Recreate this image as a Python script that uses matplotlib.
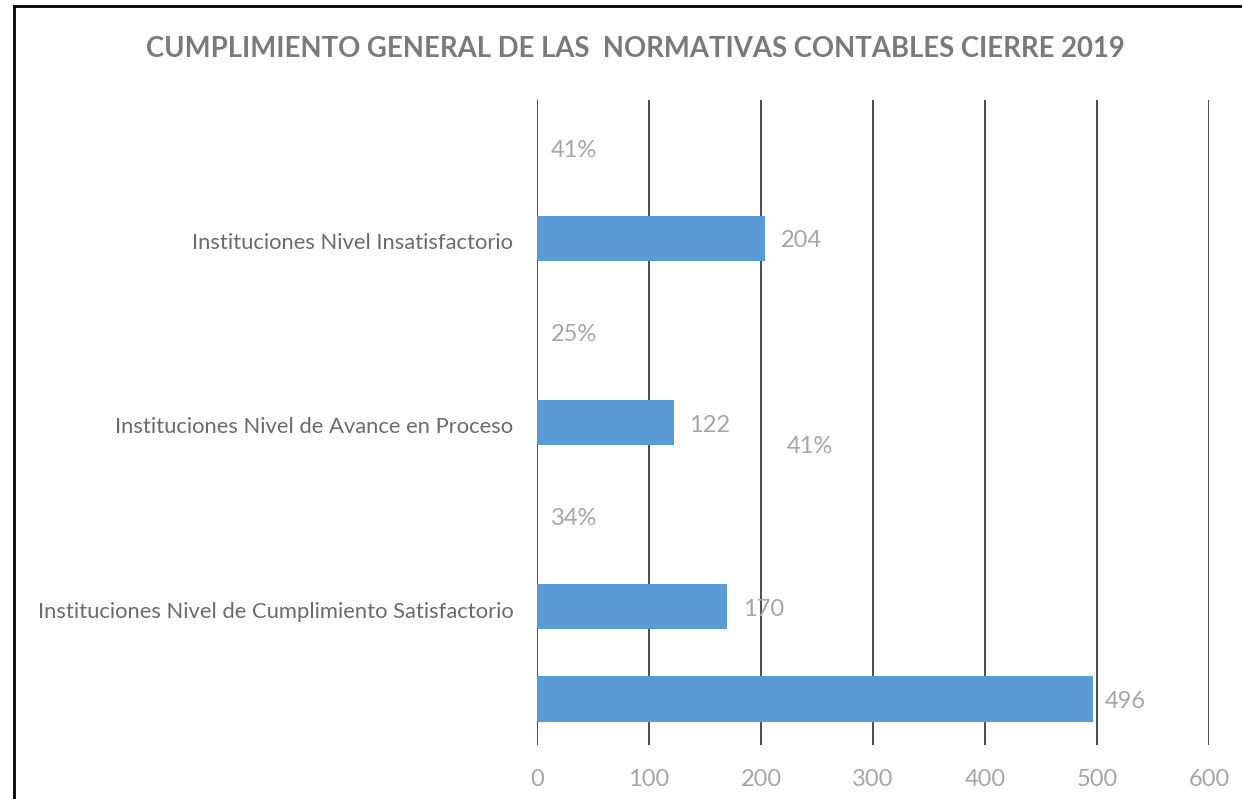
# Cumplimiento general de las normativas contables, cierre 2019.

import matplotlib
matplotlib.use("Agg")
import matplotlib.pyplot as plt
import matplotlib.transforms as mtransforms
from matplotlib.lines import Line2D

# Datos (de arriba hacia abajo en el gráfico)
CATEGORIAS = [
    "Instituciones Nivel Insatisfactorio",
    "Instituciones Nivel de Avance en Proceso",
    "Instituciones Nivel de Cumplimiento Satisfactorio",
]
CANTIDADES = [204, 122, 170]
PORCENTAJES = [41, 25, 34]
TOTAL = 496
PORCENTAJE_SUELTO = 41  # etiqueta que quedó flotando en el gráfico original

TITULO = "CUMPLIMIENTO GENERAL DE LAS  NORMATIVAS CONTABLES CIERRE 2019"
TICKS_X = [0, 100, 200, 300, 400, 500, 600]

AZUL = "#5b9bd5"
GRIS_ETIQUETA = "#a6a6a6"
GRIS_CATEGORIA = "#6b6b6b"
GRIS_TITULO = "#7a7a7a"
FUENTE = ["Lato", "DejaVu Sans"]
TAM_ETIQUETA = 17

W, H = 1242, 799
figura = plt.figure(figsize=(W / 100, H / 100), dpi=100)

# Área del gráfico en píxeles: x 537..1209, y 100..745
eixo = figura.add_axes([537 / W, (H - 745) / H, (1209 - 537) / W, (745 - 100) / H])

# Filas: porcentaje, cantidad, porcentaje, cantidad, ..., total
filas_pct = [0, 2, 4]
filas_cant = [1, 3, 5]
fila_total = 6

eixo.barh(filas_cant, CANTIDADES, height=0.49, color=AZUL, zorder=3)
eixo.barh([fila_total], [TOTAL], height=0.49, color=AZUL, zorder=3)

for fila, valor in zip(filas_cant, CANTIDADES):
    eixo.annotate(str(valor), (valor, fila), xytext=(11, -2), textcoords="offset points",
                  va="center", ha="left", fontsize=TAM_ETIQUETA, color=GRIS_ETIQUETA, family=FUENTE)
eixo.annotate(str(TOTAL), (TOTAL, fila_total), xytext=(9, -2), textcoords="offset points",
              va="center", ha="left", fontsize=TAM_ETIQUETA, color=GRIS_ETIQUETA, family=FUENTE)
for fila, pct in zip(filas_pct, PORCENTAJES):
    eixo.annotate(f"{pct}%", (0, fila), xytext=(10, -3), textcoords="offset points",
                  va="center", ha="left", fontsize=TAM_ETIQUETA, color=GRIS_ETIQUETA, family=FUENTE)
eixo.text(244, 3.26, f"{PORCENTAJE_SUELTO}%", va="center", ha="center",
          fontsize=TAM_ETIQUETA, color=GRIS_ETIQUETA, family=FUENTE)

eixo.set_xlim(0, 600)
eixo.set_ylim(6.5, -0.5)
eixo.set_xticks(TICKS_X)
eixo.set_xticklabels([str(t) for t in TICKS_X], fontsize=17, color=GRIS_ETIQUETA, family=FUENTE)
eixo.set_yticks(filas_cant)
eixo.set_yticklabels(CATEGORIAS, fontsize=15.8, color=GRIS_CATEGORIA, family=FUENTE)
eixo.tick_params(axis="x", length=0, pad=17)
eixo.tick_params(axis="y", length=0, pad=17)
eixo.grid(axis="x", color="#1a1a1a", linewidth=1.1, zorder=1)
for lado in eixo.spines.values():
    lado.set_visible(False)

# bajar un poco las etiquetas de categoría
desplazamiento = mtransforms.ScaledTranslation(0, -2 / 72, figura.dpi_scale_trans)
for etiqueta in eixo.get_yticklabels():
    etiqueta.set_transform(etiqueta.get_transform() + desplazamiento)

figura.text(635 / W, 1 - 49 / H, TITULO, ha="center", va="center", fontsize=19.8,
            fontweight="bold", color=GRIS_TITULO, family=FUENTE)

# Marco recortado (solo arriba e izquierda)
figura.add_artist(Line2D([14 / W, 1], [1 - 6 / H, 1 - 6 / H], color="black", linewidth=2))
figura.add_artist(Line2D([14 / W, 14 / W], [0, 1 - 6 / H], color="black", linewidth=2))

figura.savefig("out.png", dpi=100)
